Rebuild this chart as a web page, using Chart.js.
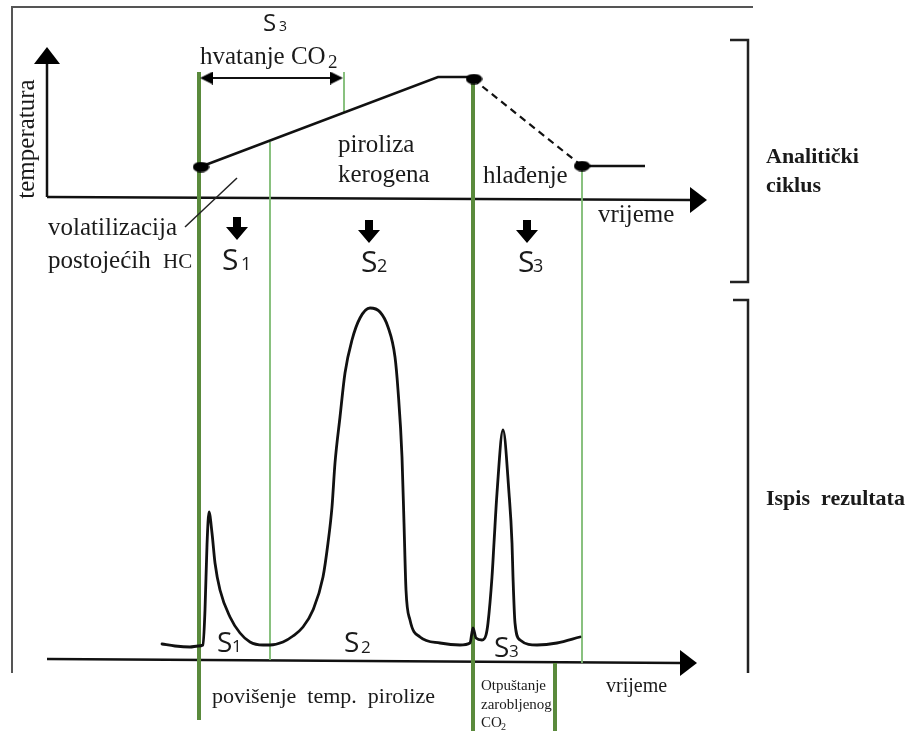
<!DOCTYPE html>
<html>
<head>
<meta charset="utf-8">
<script src="https://cdn.jsdelivr.net/npm/chart.js@4.4.1/dist/chart.umd.min.js"></script>
<style>
html,body{margin:0;padding:0;background:#ffffff;}
#wrap{width:909px;height:731px;position:relative;}
</style>
</head>
<body>
<div id="wrap"><canvas id="c" width="909" height="731"></canvas></div>
<script>
// ===================== DATA =====================
// Detector signal (lower panel): time vs. signal level above the time axis
const signalTime  = [162,175,190,198,203,205,207,209,212,215,220,230,240,250,263,270,283,293,303,313,323,328,332,335,340,345,352,360,370,380,388,395,398,402,404,406,410,420,440,460,470,473,476,482,486,488,492,494,497,503,509,512,513,515,520,537,557,580];
const signalLevel = [16,14,13,14,15,50,115,148,127,97,70,43,27,18,15,15,18,24,33,50,83,117,153,197,243,287,320,342,352,348,333,303,270,203,137,70,40,23,17,15,17,32,22,20,25,37,83,117,167,230,167,117,83,37,20,15,17,23];

// Temperature programme (upper panel): time vs. temperature above the time axis
const heatTime  = [200, 438, 473];
const heatLevel = [31, 121, 121];
const coolTime  = [473, 582];
const coolLevel = [119, 32];
const holdTime  = [582, 645];
const holdLevel = [32, 32];
const markTime  = [201, 474, 582];
const markLevel = [31, 119, 32];

// Stage boundaries (time) with their vertical extents (diagram y)
const stageMajorTime = [199, 473, 555];
const stageMajorFrom = [72, 80, 663];
const stageMajorTo   = [720, 731, 731];
const stageMinorTime = [270, 344, 582];
const stageMinorFrom = [142, 72, 167];
const stageMinorTo   = [660, 112, 663];

// Labels
const pulseLabels = ["S", "S", "S"];
const pulseIndex  = ["1", "2", "3"];

// ===================== HELPERS =====================
function mk(w, h, draw) {
  const c = document.createElement('canvas');
  c.width = w; c.height = h;
  const g = c.getContext('2d');
  g.fillStyle = '#000';
  draw(g);
  return c;
}
// arrowhead pointing right, tip at canvas centre
function headRight(L, H) {
  return mk(2 * L, H, g => { g.beginPath(); g.moveTo(0, 0); g.lineTo(L, H / 2); g.lineTo(0, H); g.closePath(); g.fill(); });
}
const bigHead = headRight(17, 26);
const smallHead = headRight(13, 13);
const dotImg = mk(17, 11, g => { g.beginPath(); g.ellipse(8.5, 5.5, 8.2, 5.2, 0, 0, Math.PI * 2); g.fill(); });
const downArrow = mk(22, 24, g => {
  g.beginPath();
  g.moveTo(7, 0); g.lineTo(15, 0); g.lineTo(15, 10); g.lineTo(22, 10);
  g.lineTo(11, 23); g.lineTo(0, 10); g.lineTo(7, 10); g.closePath(); g.fill();
});

function pts(xs, ys) { return xs.map((x, i) => ({ x: x, y: ys[i] })); }

function line(data, color, width, extra) {
  return Object.assign({
    data: data, borderColor: color, borderWidth: width, pointRadius: 0,
    fill: false, tension: 0, yAxisID: 'y', showLine: true, clip: false,
    borderCapStyle: 'butt', borderJoinStyle: 'miter'
  }, extra || {});
}
function marks(data, img, rot, yAxis, order) {
  return {
    data: data, showLine: false, pointStyle: img, pointRadius: 6,
    pointRotation: rot, yAxisID: yAxis || 'y', clip: false, order: order || 0,
    borderColor: '#000', backgroundColor: '#000'
  };
}

const datasets = [];
// outer frame
datasets.push(line(pts([753, 12, 12], [7, 7, 673]), '#555555', 2, { order: 5 }));
// brackets
datasets.push(line(pts([730, 748, 748, 730], [40, 40, 282, 282]), '#222222', 2.5, { order: 5 }));
datasets.push(line(pts([733, 748, 748], [300, 300, 673]), '#222222', 2.5, { order: 5 }));
// upper axes
datasets.push(line(pts([47, 47], [62, 197]), '#111111', 2.5, { order: 4 }));
datasets.push(line(pts([47, 692], [197, 200]), '#111111', 2.5, { order: 4 }));
// lower time axis
datasets.push(line(pts([47, 682], [659, 663]), '#111111', 2.5, { order: 4 }));
// axis arrowheads
datasets.push(marks([{ x: 47, y: 47 }], bigHead, -90, 'y', 1));
datasets.push(marks([{ x: 707, y: 200 }], bigHead, 0, 'y', 1));
datasets.push(marks([{ x: 697, y: 663 }], bigHead, 0, 'y', 1));
// stage boundary lines
stageMajorTime.forEach((t, i) => datasets.push(line(pts([t, t], [stageMajorFrom[i], stageMajorTo[i]]), '#5a8a3c', 4, { order: 3 })));
stageMinorTime.forEach((t, i) => datasets.push(line(pts([t, t], [stageMinorFrom[i], stageMinorTo[i]]), '#7dbb72', 1.8, { order: 3 })));
// CO2 trapping double arrow
datasets.push(line(pts([206, 336], [78, 78]), '#111111', 2, { order: 2 }));
datasets.push(marks([{ x: 343, y: 78 }], smallHead, 0, 'y', 1));
datasets.push(marks([{ x: 200, y: 78 }], smallHead, 180, 'y', 1));
// leader line for volatilisation
datasets.push(line(pts([237, 185], [178, 227]), '#222222', 1.5, { order: 2 }));
// down arrows
datasets.push(marks([{ x: 237, y: 229 }, { x: 369, y: 232 }, { x: 527, y: 232 }], downArrow, 0, 'y', 1));
// temperature programme
datasets.push(line(pts(heatTime, heatLevel), '#111111', 2.5, { yAxisID: 'yT', order: 2 }));
datasets.push(line(pts(coolTime, coolLevel), '#111111', 2.2, { yAxisID: 'yT', order: 2, borderDash: [7, 5] }));
datasets.push(line(pts(holdTime, holdLevel), '#111111', 2.5, { yAxisID: 'yT', order: 2 }));
datasets.push(marks(pts(markTime, markLevel), dotImg, 0, 'yT', 0));
// detector signal
datasets.push(line(pts(signalTime, signalLevel), '#111111', 2.8, { yAxisID: 'yS', order: 2, cubicInterpolationMode: 'monotone', borderJoinStyle: 'round', borderCapStyle: 'round' }));

// ===================== TEXT =====================
const SERIF = "'Liberation Serif', 'Times New Roman', serif";
const SANS = "'Open Sans', 'DejaVu Sans', sans-serif";
const texts = [
  { t: 'temperatura', x: 27, y: 139, f: '25px ' + SERIF, rot: -90, align: 'center', base: 'middle' },
  { t: 'hvatanje CO', x: 200, y: 64, f: '25px ' + SERIF },
  { t: '2', x: 328, y: 68, f: '19px ' + SERIF },
  { t: pulseLabels[2], x: 263, y: 31, f: '24px ' + SANS },
  { t: pulseIndex[2], x: 279, y: 31, f: '14px ' + SANS },
  { t: 'piroliza', x: 338, y: 152, f: '25px ' + SERIF },
  { t: 'kerogena', x: 338, y: 182, f: '25px ' + SERIF },
  { t: 'hlađenje', x: 483, y: 183, f: '25px ' + SERIF },
  { t: 'vrijeme', x: 598, y: 222, f: '25px ' + SERIF },
  { t: 'volatilizacija', x: 48, y: 235, f: '25px ' + SERIF },
  { t: 'postojećih', x: 48, y: 268, f: '25px ' + SERIF },
  { t: 'HC', x: 163, y: 268, f: '21px ' + SERIF },
  { t: pulseLabels[0], x: 222, y: 270, f: '30px ' + SANS },
  { t: pulseIndex[0], x: 241, y: 270, f: '18px ' + SANS },
  { t: pulseLabels[1], x: 361, y: 272, f: '30px ' + SANS },
  { t: pulseIndex[1], x: 377, y: 272, f: '18px ' + SANS },
  { t: pulseLabels[2], x: 518, y: 272, f: '30px ' + SANS },
  { t: pulseIndex[2], x: 533, y: 272, f: '18px ' + SANS },
  { t: pulseLabels[0], x: 217, y: 652, f: '28px ' + SANS },
  { t: pulseIndex[0], x: 232, y: 652, f: '17px ' + SANS },
  { t: pulseLabels[1], x: 344, y: 652, f: '28px ' + SANS },
  { t: pulseIndex[1], x: 361, y: 653, f: '17px ' + SANS },
  { t: pulseLabels[2], x: 494, y: 657, f: '28px ' + SANS },
  { t: pulseIndex[2], x: 509, y: 657, f: '17px ' + SANS },
  { t: 'povišenje  temp.  pirolize', x: 212, y: 703, f: '22px ' + SERIF },
  { t: 'Otpuštanje', x: 481, y: 690, f: '15px ' + SERIF },
  { t: 'zarobljenog', x: 481, y: 709, f: '15px ' + SERIF },
  { t: 'CO', x: 481, y: 727, f: '15px ' + SERIF },
  { t: '2', x: 501, y: 730, f: '10px ' + SERIF },
  { t: 'vrijeme', x: 606, y: 692, f: '20px ' + SERIF },
  { t: 'Analitički', x: 766, y: 163, f: 'bold 22px ' + SERIF },
  { t: 'ciklus', x: 766, y: 192, f: 'bold 22px ' + SERIF },
  { t: 'Ispis  rezultata', x: 766, y: 505, f: 'bold 22px ' + SERIF }
];

const textPlugin = {
  id: 'diagramText',
  afterDatasetsDraw(chart) {
    const ctx = chart.ctx, sx = chart.scales.x, sy = chart.scales.y;
    ctx.save();
    texts.forEach(o => {
      const px = sx.getPixelForValue(o.x), py = sy.getPixelForValue(o.y);
      ctx.font = o.f;
      ctx.fillStyle = o.c || '#1a1a1a';
      ctx.textAlign = o.align || 'left';
      ctx.textBaseline = o.base || 'alphabetic';
      if (o.rot) {
        ctx.save(); ctx.translate(px, py); ctx.rotate(o.rot * Math.PI / 180);
        ctx.fillText(o.t, 0, 0); ctx.restore();
      } else {
        ctx.fillText(o.t, px, py);
      }
    });
    ctx.restore();
  }
};

new Chart(document.getElementById('c'), {
  type: 'line',
  data: { datasets: datasets },
  options: {
    responsive: false,
    animation: false,
    events: [],
    devicePixelRatio: 1,
    layout: { padding: 0, autoPadding: false },
    plugins: { legend: { display: false }, tooltip: { enabled: false } },
    elements: { line: { tension: 0 } },
    scales: {
      x:  { type: 'linear', min: 0, max: 909, display: false },
      y:  { type: 'linear', min: 0, max: 731, reverse: true, display: false },
      yT: { type: 'linear', min: -533, max: 198, display: false },
      yS: { type: 'linear', min: -71, max: 660, display: false }
    }
  },
  plugins: [textPlugin]
});
</script>
</body>
</html>
